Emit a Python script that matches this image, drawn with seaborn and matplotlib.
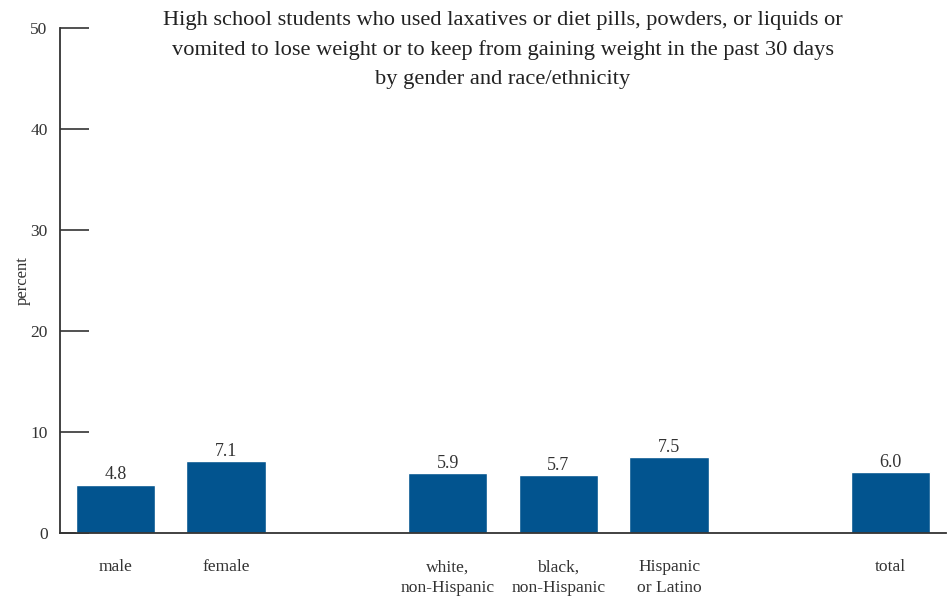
import matplotlib
matplotlib.use("Agg")
import matplotlib.pyplot as plt
import seaborn as sns
import pandas as pd

categories = ["male", "female", " ", "white,\nnon-Hispanic", "black,\nnon-Hispanic",
              "Hispanic\nor Latino", "  ", "total"]
values = [4.8, 7.1, None, 5.9, 5.7, 7.5, None, 6.0]
value_labels = ["4.8", "7.1", "", "5.9", "5.7", "7.5", "", "6.0"]
y_ticks = [0, 10, 20, 30, 40, 50]

title = ("High school students who used laxatives or diet pills, powders, or liquids or\n"
         "vomited to lose weight or to keep from gaining weight in the past 30 days\n"
         "by gender and race/ethnicity")

sns.set_theme(style="white")
plt.rcParams["font.family"] = ["Liberation Serif", "DejaVu Serif"]

df = pd.DataFrame({"group": categories, "value": values}).dropna()

fig = plt.figure(figsize=(9.48, 5.98), dpi=100)
ax = fig.add_axes([60 / 948, 65 / 598, 886 / 948, 505 / 598])

sns.barplot(data=df, x="group", y="value", order=categories, color="#02548f",
            saturation=1, width=0.72, ax=ax)

for i, (v, lab) in enumerate(zip(values, value_labels)):
    if v is not None:
        ax.text(i, v + 0.15, lab, ha="center", va="bottom", fontsize=13, color="#333333")

ax.set_xlim(-0.5, 7.5)
ax.set_ylim(0, 50)
ax.set_yticks(y_ticks)
ax.set_yticklabels([str(t) for t in y_ticks], fontsize=12.5, color="#333333")
ax.set_xticks(range(len(categories)))
ax.set_xticklabels(categories, fontsize=12.6, color="#333333", linespacing=1.4)
ax.tick_params(axis="x", length=0, pad=19)
ax.tick_params(axis="y", direction="in", length=21, width=1.2, color="#333333",
               pad=9, left=True)
ax.set_xlabel("")
ax.set_ylabel("percent", fontsize=12, color="#333333")
ax.yaxis.set_label_coords(-29 / 886, 0.5)

for s in ["top", "right"]:
    ax.spines[s].set_visible(False)
for s in ["left", "bottom"]:
    ax.spines[s].set_color("#333333")
    ax.spines[s].set_linewidth(1.3)

fig.text(503 / 948, 1 - 50 / 598, title, fontsize=16.1, color="#222222",
         linespacing=1.68, ha="center", va="center", multialignment="center")

fig.savefig("out.png", dpi=100)
